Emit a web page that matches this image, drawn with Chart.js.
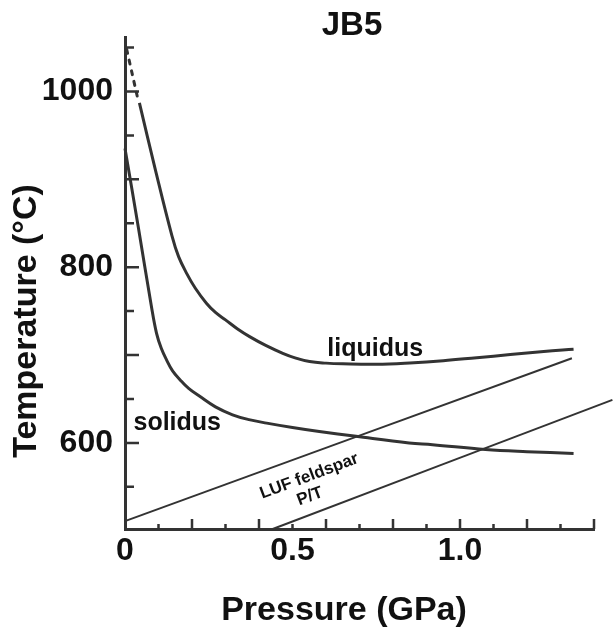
<!DOCTYPE html>
<html>
<head>
<meta charset="utf-8">
<title>JB5</title>
<script src="https://cdn.jsdelivr.net/npm/chart.js@4.4.1/dist/chart.umd.min.js"></script>
<style>
  html, body { margin: 0; padding: 0; background: #fff; }
  #wrap { width: 614px; height: 630px; }
</style>
</head>
<body>
<div id="wrap"><canvas id="chart"></canvas></div>
<script>
// --- Data (pressure in GPa, temperature in °C) ---
const liquidusDashP = [0.005, 0.038];
const liquidusDashT = [1048, 992];

const liquidusP = [0.043, 0.09, 0.14, 0.16, 0.184, 0.21, 0.243, 0.27, 0.3, 0.335, 0.372, 0.42, 0.471, 0.51, 0.551, 0.6, 0.65, 0.75, 0.85, 0.95, 1.05, 1.15, 1.25, 1.339];
const liquidusT = [987, 912, 836, 812, 793, 776, 759, 748.5, 740, 730, 721, 711, 702, 696.5, 692.6, 690.8, 690, 689.5, 691, 693.5, 697, 700.5, 704, 706.6];

const solidusP = [0, 0.04, 0.079, 0.094, 0.108, 0.124, 0.142, 0.164, 0.19, 0.223, 0.27, 0.321, 0.37, 0.423, 0.5, 0.58, 0.69, 0.848, 0.918, 1.076, 1.2, 1.339];
const solidusT = [935, 845, 755, 725, 708, 694.5, 682, 672, 662, 653, 641, 632, 626.5, 622.5, 617.5, 613, 607.5, 600, 598, 592.5, 590, 588];

const lufUpperP = [0, 1.334];
const lufUpperT = [511, 696.4];
const lufLowerP = [0.441, 1.455];
const lufLowerT = [502, 649];

const xTickLabels = [0, 0.5, 1.0];
const yTickLabels = [600, 800, 1000];
const xTickMarks = [0.1, 0.2, 0.3, 0.4, 0.5, 0.6, 0.7, 0.8, 0.9, 1.0, 1.1, 1.2, 1.3, 1.4];
const yTickMarks = [550, 600, 650, 700, 750, 800, 850, 900, 950, 1000, 1050];

const FONT = '"Liberation Sans", Arial, Helvetica, sans-serif';
const INK = '#333';

const zip = (xs, ys) => xs.map((x, i) => ({ x: x, y: ys[i] }));

// text placed on the plot (curve labels use data coords, titles use canvas px)
const curveLabels = [
  { text: 'liquidus', p: 0.747, t: 699, size: 25, angle: 0, baseline: 'alphabetic' },
  { text: 'solidus', p: 0.156, t: 615, size: 25, angle: 0, baseline: 'alphabetic' },
  { text: 'LUF feldspar', p: 0.55, t: 562, size: 17, angle: -20.5, baseline: 'middle' },
  { text: 'P/T', p: 0.552, t: 539, size: 17, angle: -20.5, baseline: 'middle' }
];

// inward tick marks + titles + curve labels
const decorPlugin = {
  id: 'decor',
  afterDraw(chart) {
    const { ctx, chartArea, scales } = chart;
    ctx.save();
    ctx.strokeStyle = INK;
    ctx.lineWidth = 2.5;
    ctx.beginPath();
    xTickMarks.forEach(v => {
      const px = scales.x.getPixelForValue(v);
      const len = Math.round(v * 10) % 2 === 0 ? 10 : 5;
      ctx.moveTo(px, chartArea.bottom);
      ctx.lineTo(px, chartArea.bottom - len);
    });
    yTickMarks.forEach(v => {
      const py = scales.y.getPixelForValue(v);
      const len = v % 100 === 0 ? 14 : 9;
      ctx.moveTo(chartArea.left, py);
      ctx.lineTo(chartArea.left + len, py);
    });
    ctx.stroke();

    ctx.fillStyle = '#111';
    ctx.textAlign = 'center';
    ctx.textBaseline = 'alphabetic';

    // chart title
    ctx.font = 'bold 33px ' + FONT;
    ctx.fillText('JB5', 352, 35);

    // axis titles
    ctx.font = 'bold 34px ' + FONT;
    ctx.fillText('Pressure (GPa)', 344, 620);
    ctx.save();
    ctx.translate(36, 321);
    ctx.rotate(-Math.PI / 2);
    ctx.fillText('Temperature (°C)', 0, 0);
    ctx.restore();

    curveLabels.forEach(l => {
      const px = scales.x.getPixelForValue(l.p);
      const py = scales.y.getPixelForValue(l.t);
      ctx.save();
      ctx.translate(px, py);
      ctx.rotate(l.angle * Math.PI / 180);
      ctx.font = 'bold ' + l.size + 'px ' + FONT;
      ctx.textBaseline = l.baseline;
      ctx.fillText(l.text, 0, 0);
      ctx.restore();
    });
    ctx.restore();
  }
};

const lineSet = (data, width, extra) => Object.assign({
  data: data,
  showLine: true,
  borderColor: INK,
  borderWidth: width,
  pointRadius: 0,
  fill: false,
  clip: false,
  tension: 0.4
}, extra || {});

new Chart(document.getElementById('chart'), {
  type: 'scatter',
  data: {
    datasets: [
      lineSet(zip(liquidusDashP, liquidusDashT), 3, { borderDash: [4, 7], borderCapStyle: 'round' }),
      lineSet(zip(liquidusP, liquidusT), 3),
      lineSet(zip(solidusP, solidusT), 3),
      lineSet(zip(lufUpperP, lufUpperT), 2),
      lineSet(zip(lufLowerP, lufLowerT), 2)
    ]
  },
  options: {
    responsive: true,
    maintainAspectRatio: false,
    animation: false,
    devicePixelRatio: 1,
    layout: { padding: { top: 37, right: 20, bottom: 0, left: 0 } },
    plugins: {
      legend: { display: false },
      tooltip: { enabled: false },
      title: { display: false }
    },
    scales: {
      x: {
        type: 'linear',
        min: 0,
        max: 1.4,
        afterFit: s => { s.height = 101; },
        afterBuildTicks: s => { s.ticks = xTickLabels.map(v => ({ value: v })); },
        grid: { drawOnChartArea: false, drawTicks: false },
        border: { display: true, width: 3, color: INK },
        ticks: {
          padding: 3,
          color: '#111',
          font: { family: FONT, size: 32, weight: 'bold' },
          callback: v => (v === 0 ? '0' : v.toFixed(1))
        }
      },
      y: {
        type: 'linear',
        min: 502,
        max: 1062,
        afterFit: s => { s.width = 125; },
        afterBuildTicks: s => { s.ticks = yTickLabels.map(v => ({ value: v })); },
        grid: { drawOnChartArea: false, drawTicks: false },
        border: { display: true, width: 3, color: INK },
        ticks: {
          padding: 12,
          color: '#111',
          font: { family: FONT, size: 32, weight: 'bold' },
          callback: v => String(v)
        }
      }
    }
  },
  plugins: [decorPlugin]
});
</script>
</body>
</html>
